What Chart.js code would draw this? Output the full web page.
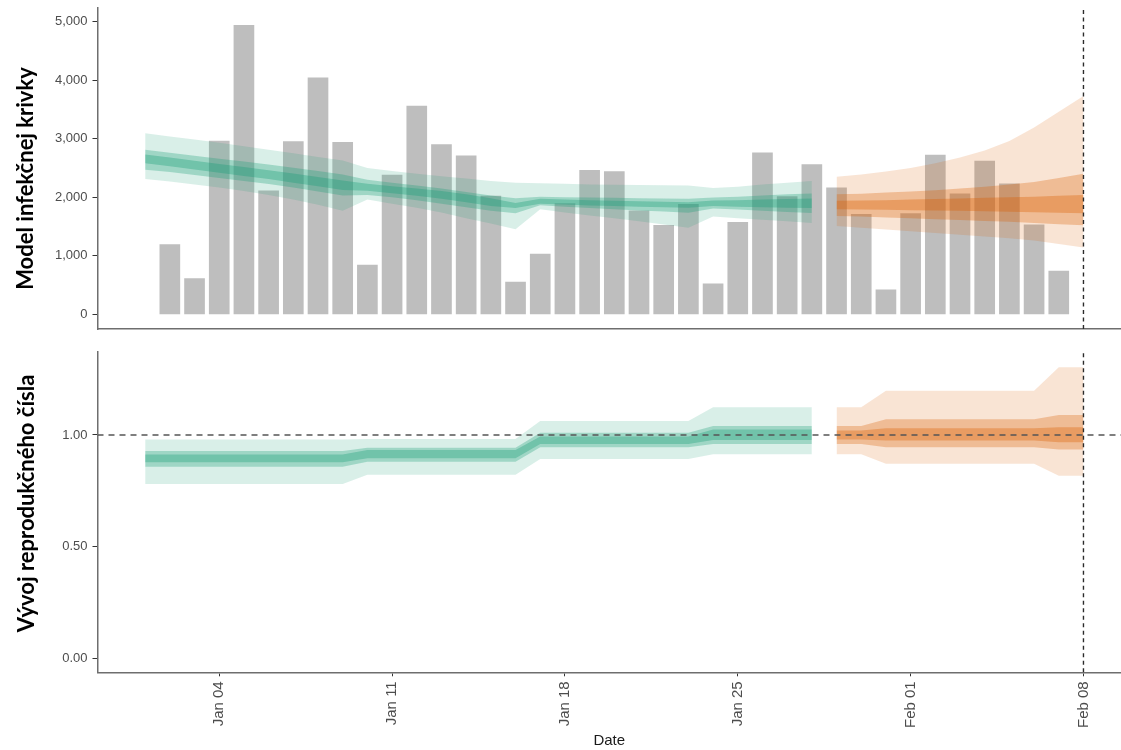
<!DOCTYPE html>
<html><head><meta charset="utf-8">
<script src="https://cdn.jsdelivr.net/npm/chart.js@4.4.1/dist/chart.umd.min.js"></script>
<style>
html,body{margin:0;padding:0;background:#fff;}
#top{position:absolute;left:0;top:0;}
#bot{position:absolute;left:0;top:340px;}
</style></head><body>
<canvas id="top" width="1121" height="340"></canvas>
<canvas id="bot" width="1121" height="410"></canvas>
<script>
// ---------- DATA ----------
const origin = '2021-01-01';
const caseDates = ['2021-01-02','2021-01-03','2021-01-04','2021-01-05','2021-01-06','2021-01-07','2021-01-08','2021-01-09','2021-01-10','2021-01-11','2021-01-12','2021-01-13','2021-01-14','2021-01-15','2021-01-16','2021-01-17','2021-01-18','2021-01-19','2021-01-20','2021-01-21','2021-01-22','2021-01-23','2021-01-24','2021-01-25','2021-01-26','2021-01-27','2021-01-28','2021-01-29','2021-01-30','2021-01-31','2021-02-01','2021-02-02','2021-02-03','2021-02-04','2021-02-05','2021-02-06','2021-02-07'];
const cases = [1190,610,2960,4940,2110,2950,4040,2940,840,2380,3560,2900,2710,2020,550,1030,1890,2460,2440,1770,1520,1880,520,1570,2760,2010,2560,2160,1710,420,1720,2720,2060,2620,2230,1530,740];

const estDates = ['2021-01-01','2021-01-02','2021-01-03','2021-01-04','2021-01-05','2021-01-06','2021-01-07','2021-01-08','2021-01-09','2021-01-10','2021-01-11','2021-01-12','2021-01-13','2021-01-14','2021-01-15','2021-01-16','2021-01-17','2021-01-18','2021-01-19','2021-01-20','2021-01-21','2021-01-22','2021-01-23','2021-01-24','2021-01-25','2021-01-26','2021-01-27','2021-01-28'];
const fcDates = ['2021-01-29','2021-01-30','2021-01-31','2021-02-01','2021-02-02','2021-02-03','2021-02-04','2021-02-05','2021-02-06','2021-02-07','2021-02-08'];

// infections – estimate (90 / 50 / 20 % bands)
const infEst90Hi = [3094,3040,2985,2930,2870,2810,2750,2690,2630,2500,2450,2400,2360,2320,2280,2250,2240,2230,2220,2215,2210,2205,2200,2160,2180,2220,2250,2280];
const infEst90Lo = [2313,2270,2220,2165,2105,2040,1960,1870,1770,1960,1890,1820,1740,1640,1550,1455,1795,1740,1690,1640,1590,1535,1480,1670,1640,1615,1590,1560];
const infEst50Hi = [2810,2760,2710,2660,2610,2560,2505,2450,2390,2300,2250,2200,2150,2090,2030,1985,2010,2000,1995,1990,1985,1980,1975,1995,2010,2030,2050,2065];
const infEst50Lo = [2470,2430,2380,2330,2280,2225,2165,2100,2030,2040,2000,1950,1890,1830,1770,1725,1865,1840,1815,1795,1775,1755,1735,1810,1790,1770,1750,1730];
const infEst20Hi = [2730,2680,2625,2570,2515,2460,2405,2345,2285,2230,2190,2150,2105,2050,1985,1900,1975,1960,1950,1940,1930,1925,1915,1945,1950,1960,1970,1980];
const infEst20Lo = [2580,2530,2475,2420,2365,2310,2250,2190,2125,2110,2070,2025,1975,1915,1850,1815,1890,1875,1860,1850,1840,1830,1820,1850,1840,1830,1820,1815];
// infections – forecast
const infFc90Hi = [2350,2390,2440,2500,2580,2680,2800,2960,3190,3460,3730];
const infFc90Lo = [1510,1480,1450,1420,1390,1360,1330,1300,1260,1200,1140];
const infFc50Hi = [2050,2060,2080,2100,2120,2150,2180,2220,2260,2330,2400];
const infFc50Lo = [1680,1670,1655,1640,1625,1610,1595,1580,1560,1540,1520];
const infFc20Hi = [1940,1945,1950,1960,1970,1980,1990,2000,2010,2025,2040];
const infFc20Lo = [1795,1790,1785,1780,1775,1768,1760,1752,1745,1735,1725];

// reproduction number – estimate
const rEst90Hi = [0.98,0.98,0.98,0.98,0.98,0.98,0.98,0.98,0.98,0.982,0.982,0.982,0.982,0.982,0.982,0.982,1.063,1.063,1.063,1.063,1.063,1.063,1.063,1.124,1.124,1.124,1.124,1.124];
const rEst90Lo = [0.78,0.78,0.78,0.78,0.78,0.78,0.78,0.78,0.78,0.822,0.822,0.822,0.822,0.822,0.822,0.822,0.893,0.893,0.893,0.893,0.893,0.893,0.893,0.914,0.914,0.914,0.914,0.914];
const rEst50Hi = [0.928,0.928,0.928,0.928,0.928,0.928,0.928,0.928,0.928,0.943,0.943,0.943,0.943,0.943,0.943,0.943,1.01,1.01,1.01,1.01,1.01,1.01,1.01,1.04,1.04,1.04,1.04,1.04];
const rEst50Lo = [0.858,0.858,0.858,0.858,0.858,0.858,0.858,0.858,0.858,0.88,0.88,0.88,0.88,0.88,0.88,0.88,0.945,0.945,0.945,0.945,0.945,0.945,0.945,0.96,0.96,0.96,0.96,0.96];
const rEst20Hi = [0.913,0.913,0.913,0.913,0.913,0.913,0.913,0.913,0.913,0.933,0.933,0.933,0.933,0.933,0.933,0.933,0.993,0.993,0.993,0.993,0.993,0.993,0.993,1.025,1.025,1.025,1.025,1.025];
const rEst20Lo = [0.878,0.878,0.878,0.878,0.878,0.878,0.878,0.878,0.878,0.896,0.896,0.896,0.896,0.896,0.896,0.896,0.96,0.96,0.96,0.96,0.96,0.96,0.96,0.978,0.978,0.978,0.978,0.978];
// reproduction number – forecast
const rFc90Hi = [1.124,1.124,1.198,1.198,1.198,1.198,1.198,1.198,1.198,1.303,1.303];
const rFc90Lo = [0.914,0.914,0.871,0.871,0.871,0.871,0.871,0.871,0.871,0.817,0.817];
const rFc50Hi = [1.04,1.04,1.07,1.07,1.07,1.07,1.07,1.07,1.07,1.09,1.09];
const rFc50Lo = [0.96,0.96,0.945,0.945,0.945,0.945,0.945,0.945,0.945,0.935,0.935];
const rFc20Hi = [1.02,1.02,1.03,1.03,1.03,1.03,1.03,1.03,1.03,1.035,1.035];
const rFc20Lo = [0.98,0.98,0.975,0.975,0.975,0.975,0.975,0.975,0.975,0.968,0.968];

const tickDates = ['2021-01-04','2021-01-11','2021-01-18','2021-01-25','2021-02-01','2021-02-08'];
const tickLabels = ['Jan 04','Jan 11','Jan 18','Jan 25','Feb 01','Feb 08'];
const caseTicks = [0,1000,2000,3000,4000,5000];
const rTicks = [0,0.5,1];
const refDate = '2021-02-08';
const rRef = 1;
const topTitle = 'Model infekčnej krivky';
const botTitle = 'Vývoj reprodukčného čísla';
const xTitle = 'Date';

// ---------- helpers ----------
const day = s => (Date.parse(s) - Date.parse(origin)) / 864e5;
const X_MIN = -1.93, X_MAX = 39.52;
const TOP_MIN = -251, TOP_MAX = 5234;
const BOT_MIN = -0.0627, BOT_MAX = 1.373;
const AXIS = '#6e6e6e';
const TICKC = '#4d4d4d';
const GREEN = 'rgba(27,158,119,A)';
const ORANGE = 'rgba(217,95,2,A)';
const alpha90 = 0.17, alpha50 = 0.30, alpha20 = 0.35;
const col = (c,a) => c.replace('A', a);

function band(dates, hi, lo, color, order){
  return [
    {type:'line', data: dates.map((d,i)=>({x:day(d), y:hi[i]})), fill:'+1', backgroundColor:color,
     borderColor:'transparent', borderWidth:0, pointRadius:0, tension:0, order},
    {type:'line', data: dates.map((d,i)=>({x:day(d), y:lo[i]})), fill:false,
     borderColor:'transparent', borderWidth:0, pointRadius:0, tension:0, order}
  ];
}
function vline(yMin, yMax){
  return {type:'line', data:[{x:day(refDate), y:yMin},{x:day(refDate), y:yMax}], borderColor:'#2b2b2b',
    borderWidth:1.4, borderDash:[4,3.5], pointRadius:0, fill:false, order:0};
}

// rotated y-axis title drawn as canvas text
const yTitlePlugin = {
  id:'yTitle',
  afterDraw(chart, args, opts){
    const ctx = chart.ctx;
    ctx.save();
    ctx.translate(opts.x, opts.y);
    ctx.rotate(-Math.PI/2);
    ctx.font = 'bold 22px Lato, "Open Sans", sans-serif';
    ctx.fillStyle = '#000';
    ctx.textAlign = 'center';
    ctx.textBaseline = 'middle';
    ctx.fillText(opts.text, 0, 0);
    ctx.restore();
  }
};

const tickFont = {family:"'Liberation Sans', Arial, sans-serif", size:13};
const noPad = a => { a.paddingTop = 0; a.paddingBottom = 0; a.paddingLeft = 0; a.paddingRight = 0; };

function yScale(min, max, ticks, fmt){
  return {
    type:'linear', min, max,
    afterBuildTicks: a => { a.ticks = ticks.map(v=>({value:v})); },
    afterFit: a => { a.width = 97.5; noPad(a); },
    ticks:{callback: fmt, color:TICKC, font:tickFont, padding:5},
    grid:{display:true, drawOnChartArea:false, drawTicks:true, tickLength:5, color:'#333', lineWidth:1},
    border:{display:true, color:AXIS, width:1.5}
  };
}

const common = {
  responsive:false, animation:false, events:[]
};

// ---------- top chart ----------
new Chart(document.getElementById('top'), {
  type:'bar',
  plugins:[yTitlePlugin],
  data:{datasets:[
    vline(TOP_MIN, TOP_MAX),
    ...band(estDates, infEst20Hi, infEst20Lo, col(GREEN, alpha20), 1),
    ...band(estDates, infEst50Hi, infEst50Lo, col(GREEN, alpha50), 2),
    ...band(estDates, infEst90Hi, infEst90Lo, col(GREEN, alpha90), 3),
    ...band(fcDates, infFc20Hi, infFc20Lo, col(ORANGE, alpha20), 1),
    ...band(fcDates, infFc50Hi, infFc50Lo, col(ORANGE, alpha50), 2),
    ...band(fcDates, infFc90Hi, infFc90Lo, col(ORANGE, alpha90), 3),
    {type:'bar', data: caseDates.map((d,i)=>({x:day(d), y:cases[i]})), backgroundColor:'#bebebe',
     barThickness:20, order:10}
  ]},
  options:{...common,
    plugins:{legend:{display:false}, tooltip:{enabled:false}, yTitle:{text:topTitle, x:26, y:178.5}},
    layout:{padding:{top:8, right:0, left:0, bottom:0}},
    scales:{
      x:{type:'linear', min:X_MIN, max:X_MAX, offset:false,
         ticks:{display:false}, grid:{display:true, drawOnChartArea:false, drawTicks:false},
         border:{display:true, color:AXIS, width:1.5},
         afterFit: a => { a.height = 11; noPad(a); }},
      y: yScale(TOP_MIN, TOP_MAX, caseTicks, v => v.toLocaleString('en-US'))
    }
  }
});

// ---------- bottom chart ----------
new Chart(document.getElementById('bot'), {
  type:'line',
  plugins:[yTitlePlugin],
  data:{datasets:[
    vline(BOT_MIN, BOT_MAX),
    {type:'line', data:[{x:X_MIN, y:rRef},{x:X_MAX, y:rRef}], borderColor:'#555', borderWidth:1.4,
     borderDash:[6,5], pointRadius:0, fill:false, order:0},
    ...band(estDates, rEst20Hi, rEst20Lo, col(GREEN, alpha20), 1),
    ...band(estDates, rEst50Hi, rEst50Lo, col(GREEN, alpha50), 2),
    ...band(estDates, rEst90Hi, rEst90Lo, col(GREEN, alpha90), 3),
    ...band(fcDates, rFc20Hi, rFc20Lo, col(ORANGE, alpha20), 1),
    ...band(fcDates, rFc50Hi, rFc50Lo, col(ORANGE, alpha50), 2),
    ...band(fcDates, rFc90Hi, rFc90Lo, col(ORANGE, alpha90), 3)
  ]},
  options:{...common,
    plugins:{legend:{display:false}, tooltip:{enabled:false}, yTitle:{text:botTitle, x:27, y:163.5}},
    layout:{padding:{top:11.7, right:0, left:0, bottom:0}},
    scales:{
      x:{type:'linear', min:X_MIN, max:X_MAX,
         afterBuildTicks: a => { a.ticks = tickDates.map(d=>({value:day(d)})); },
         afterFit: a => { a.height = 77.7; noPad(a); },
         ticks:{autoSkip:false, minRotation:90, maxRotation:90, color:TICKC, padding:5,
                font:{family:"'Liberation Sans', Arial, sans-serif", size:15},
                callback: v => tickLabels[tickDates.map(day).indexOf(v)]},
         grid:{display:true, drawOnChartArea:false, drawTicks:true, tickLength:4, color:'#333'},
         border:{display:true, color:AXIS, width:1.5},
         title:{display:true, text:xTitle, color:'#1a1a1a', padding:{top:0,bottom:0},
                font:{family:"'Liberation Sans', Arial, sans-serif", size:15}}},
      y: yScale(BOT_MIN, BOT_MAX, rTicks, v => v.toFixed(2))
    }
  }
});
</script>
</body></html>
